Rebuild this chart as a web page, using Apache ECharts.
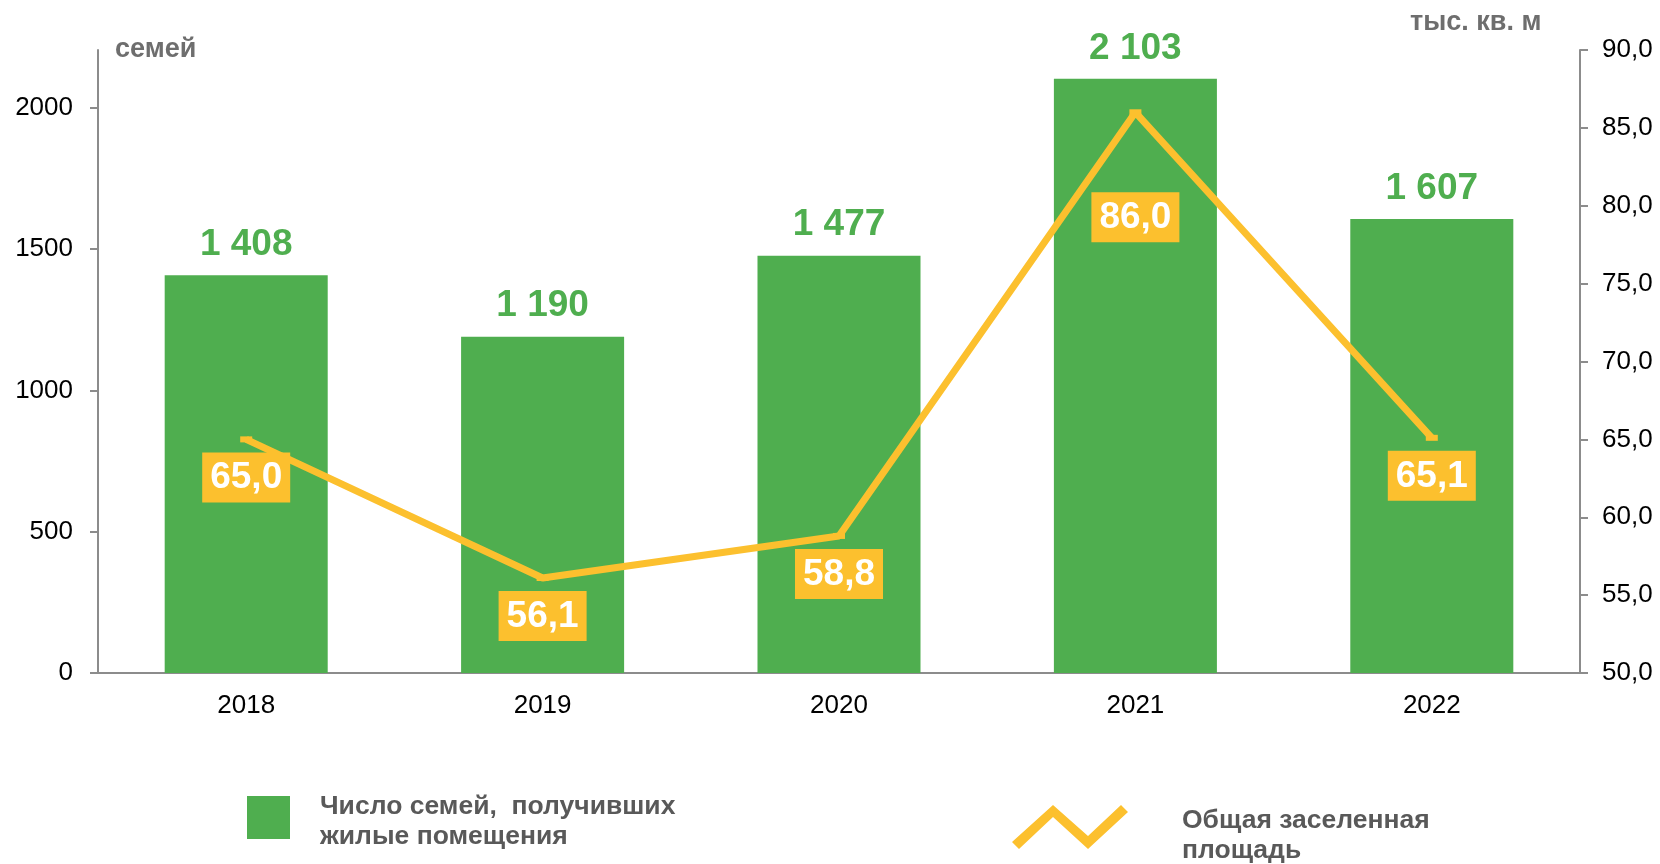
<!DOCTYPE html>
<html>
<head>
<meta charset="utf-8">
<script src="https://cdn.jsdelivr.net/npm/echarts@6/dist/echarts.min.js"></script>
<style>
    html, body { margin: 0; padding: 0; background: #fff; }
    #myChart { width: 1660px; height: 864px; }
</style>
</head>
<body>
<div id="myChart"></div>
<script>
// годы
var years = ['2018', '2019', '2020', '2021', '2022'];
// число семей, получивших жилые помещения
var families = [1408, 1190, 1477, 2103, 1607];
// общая заселенная площадь, тыс. кв. м
var area = [65.0, 56.1, 58.8, 86.0, 65.1];
// деления осей
var leftTicks = [0, 500, 1000, 1500, 2000];
var rightMin = 50, rightMax = 90, rightStep = 5;

var green = '#4fae4f';
var yellow = '#fcc02e';
var font = '"Liberation Sans", Arial, sans-serif';

function comma(v) {
    return Number(v).toFixed(1).replace('.', ',');
}
function thousands(v) {
    return String(v).replace(/\B(?=(\d{3})+(?!\d))/g, ' ');
}

var myChart = echarts.init(document.getElementById('myChart'));

var legendText = {fontSize: 26.5, fontWeight: 'bold', color: '#595959', lineHeight: 30, fontFamily: font};

var option = {
    animation: false,
    textStyle: {fontFamily: font},
    grid: {left: 98, right: 80, top: 50, bottom: 191},
    graphic: [{
        type: 'text', left: 115, top: 36,
        style: {text: 'семей', fill: '#6e6e6e', font: 'bold 27px ' + font}
    }, {
        type: 'text', left: 1410, top: 9,
        style: {text: 'тыс. кв. м', fill: '#6e6e6e', font: 'bold 27px ' + font}
    }],
    legend: [{
        data: ['Число семей,  получивших\nжилые помещения'],
        left: 242, top: 787,
        itemWidth: 43, itemHeight: 52,
        // квадрат сверху, пустая точка внизу опускает текст
        icon: 'path://M0,0 L43,0 L43,43 L0,43 Z M0,52 L0.1,52 Z',
        itemStyle: {color: green},
        textStyle: echarts.util.extend({padding: [0, 0, 0, 25]}, legendText)
    }, {
        data: ['Общая заселенная\nплощадь'],
        left: 1007, top: 800,
        itemWidth: 116, itemHeight: 62,
        // зигзаг сверху, пустая точка внизу сдвигает значок вверх
        icon: 'path://M0,37 L41,0 L76,31 L109,0 L116,7 L76,44 L41,12 L7,44 Z M0,62 L0.1,62 Z',
        itemStyle: {color: yellow},
        textStyle: echarts.util.extend({padding: [0, 0, 0, 49]}, legendText)
    }],
    xAxis: {
        type: 'category',
        data: years,
        axisLine: {lineStyle: {color: '#8c8c8c', width: 2}},
        axisTick: {length: 8, lineStyle: {color: '#8c8c8c', width: 2}},
        axisLabel: {color: '#000', fontSize: 26, margin: 20, fontFamily: font}
    },
    yAxis: [{
        type: 'value',
        min: 0, max: 2205,
        splitLine: {show: false},
        axisLine: {show: true, lineStyle: {color: '#8c8c8c', width: 2}},
        axisTick: {show: true, length: 8, customValues: leftTicks, lineStyle: {color: '#8c8c8c', width: 2}},
        axisLabel: {
            color: '#000', fontSize: 26, margin: 25, customValues: leftTicks, fontFamily: font,
            formatter: function (v) { return String(v); }
        }
    }, {
        type: 'value',
        position: 'right',
        min: rightMin, max: rightMax, interval: rightStep,
        splitLine: {show: false},
        axisLine: {show: true, lineStyle: {color: '#8c8c8c', width: 2}},
        axisTick: {show: true, length: 8, lineStyle: {color: '#8c8c8c', width: 2}},
        axisLabel: {color: '#000', fontSize: 26, margin: 22, formatter: comma, fontFamily: font}
    }],
    series: [{
        name: 'Число семей,  получивших\nжилые помещения',
        type: 'bar',
        data: families,
        barWidth: '55%',
        itemStyle: {color: green},
        label: {
            show: true, position: 'top', distance: 12,
            color: green, fontSize: 37, fontWeight: 'bold', fontFamily: font,
            formatter: function (p) { return thousands(p.value); }
        }
    }, {
        name: 'Общая заселенная\nплощадь',
        type: 'line',
        yAxisIndex: 1,
        data: area.map(function (v, i) {
            // подпись для 2021 года опущена ниже
            return i === 3 ? {value: v, label: {distance: 77}} : v;
        }),
        lineStyle: {color: yellow, width: 7},
        itemStyle: {color: yellow},
        symbol: 'rect',
        symbolSize: [12, 6],
        z: 5,
        label: {
            show: true, position: 'bottom', distance: 10,
            color: '#fff', fontSize: 37, fontWeight: 'bold', fontFamily: font,
            backgroundColor: yellow, padding: [7, 8, 6, 8],
            formatter: function (p) { return comma(p.value); }
        }
    }]
};
myChart.setOption(option);
window.onresize = myChart.resize;
</script>
</body>
</html>
